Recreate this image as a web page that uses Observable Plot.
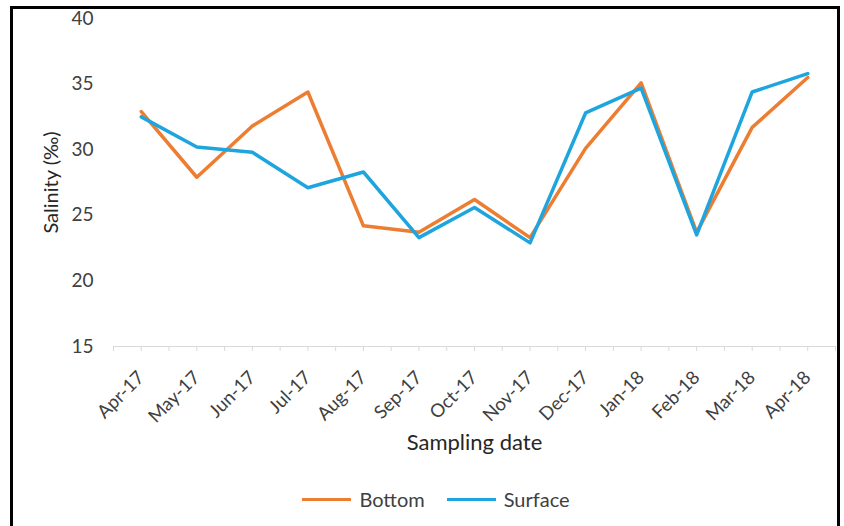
<!DOCTYPE html>
<html>
<head>
<meta charset="utf-8">
<script src="https://cdn.jsdelivr.net/npm/d3@7"></script>
<script src="https://cdn.jsdelivr.net/npm/@observablehq/plot@0.6"></script>
<style>
  html, body { margin: 0; padding: 0; background: #fff; }
  #wrap { position: relative; width: 844px; height: 526px; overflow: hidden; font-family: Lato, sans-serif; }
  #border { position: absolute; left: 10px; top: 6px; width: 830px; height: 540px; border: 3px solid #000; box-sizing: border-box; pointer-events: none; }
  #chart { position: absolute; left: 0; top: 0; }
  #legend { position: absolute; left: 0; top: 481px; width: 872px; text-align: center; font-size: 20px; color: #404040; }
  .item { display: inline-flex; align-items: center; margin: 0 11px; }
  .swatch { display: inline-block; width: 49px; height: 3.5px; margin-right: 8px; }
</style>
</head>
<body>
<div id="wrap">
  <div id="chart"></div>
  <div id="legend"></div>
  <div id="border"></div>
</div>
<script>
// Monthly salinity at the bottom and surface, Apr 2017 – Apr 2018
const months = ["Apr-17", "May-17", "Jun-17", "Jul-17", "Aug-17", "Sep-17", "Oct-17",
                "Nov-17", "Dec-17", "Jan-18", "Feb-18", "Mar-18", "Apr-18"];
const bottom  = [32.9, 27.9, 31.8, 34.4, 24.2, 23.7, 26.2, 23.3, 30.1, 35.1, 23.7, 31.7, 35.5];
const surface = [32.5, 30.2, 29.8, 27.1, 28.3, 23.3, 25.6, 22.9, 32.8, 34.7, 23.5, 34.4, 35.8];
const yTicks = [15, 20, 25, 30, 35, 40];

const series = [
  {name: "Bottom",  color: "#ED7D31", values: bottom},
  {name: "Surface", color: "#1FA5DE", values: surface}
];

const rows = months.map((m, i) => ({i, month: m, bottom: bottom[i], surface: surface[i]}));

const chart = Plot.plot({
  width: 844,
  height: 470,
  marginLeft: 113,
  marginRight: 9,
  marginTop: 18,
  marginBottom: 124,
  style: {fontFamily: "Lato, sans-serif", fontSize: "18.5px", color: "#404040", background: "transparent"},
  x: {type: "linear", domain: [-0.5, months.length - 0.5]},
  y: {domain: [15, 40]},
  marks: [
    Plot.ruleY([15], {stroke: "#d9d9d9", strokeWidth: 1}),
    Plot.axisY({ticks: yTicks, tickSize: 0, tickPadding: 20, label: null, fill: "#404040", fontSize: 19}),
    // minor ticks at each month and between months
    Plot.axisX({ticks: d3.range(-0.5, months.length, 0.5), tickSize: 5, tickFormat: () => "", stroke: "#d9d9d9", label: null}),
    Plot.axisX({ticks: d3.range(months.length), tickSize: 0, tickPadding: 28, tickRotate: -45,
                tickFormat: i => months[i], label: null, fill: "#404040"}),
    ...series.map(s => Plot.line(rows, {x: "i", y: s.name.toLowerCase(), stroke: s.color, strokeWidth: 3.5})),
    Plot.text(["Salinity (‰)"], {frameAnchor: "left", textAnchor: "middle", rotate: -90, dx: -62, fontSize: 20, fill: "#262626"}),
    Plot.text(["Sampling date"], {frameAnchor: "bottom", dy: 103, fontSize: 22, fill: "#262626"})
  ]
});
document.getElementById("chart").appendChild(chart);

const legend = d3.select("#legend");
series.forEach(s => {
  const item = legend.append("span").attr("class", "item");
  item.append("span").attr("class", "swatch").style("background", s.color);
  item.append("span").text(s.name);
});
</script>
</body>
</html>
